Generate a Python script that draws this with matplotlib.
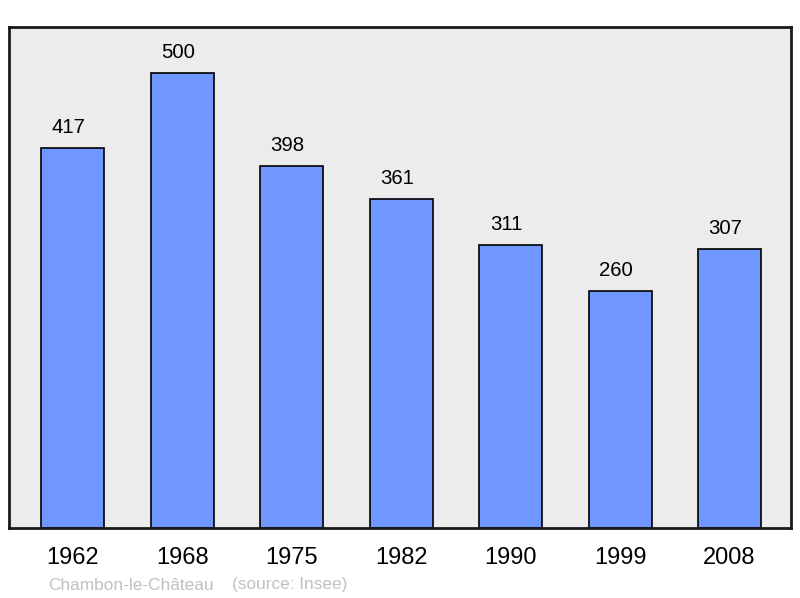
import matplotlib
matplotlib.use('Agg')
import matplotlib.pyplot as plt

plt.rcParams['font.family'] = ['Liberation Sans', 'DejaVu Sans']

# Population data
years = ['1962', '1968', '1975', '1982', '1990', '1999', '2008']
population = [417, 500, 398, 361, 311, 260, 307]
commune = 'Chambon-le-Château'
source = '(source: Insee)'

fig = plt.figure(figsize=(8, 5.98), dpi=100)
ax = fig.add_axes([9/800, 70/598, 782/800, 501/598])
ax.set_facecolor('#ececec')

x = list(range(len(years)))
bars = ax.bar(x, population, width=0.575, color='#7096ff',
              edgecolor='black', linewidth=1.2, zorder=2)

for xi, v in zip(x, population):
    ax.annotate(str(v), xy=(xi, v), xytext=(-3, 14.8), textcoords='offset points',
                ha='center', va='center', fontsize=14.7)

ax.set_xlim(-0.584, 6.562)
ax.set_ylim(0, 550.5)
ax.set_yticks([])
ax.set_xticks(x)
ax.set_xticklabels(years, fontsize=17)
ax.tick_params(axis='x', length=0, pad=13.5)

for sp in ax.spines.values():
    sp.set_linewidth(2)
    sp.set_color('#1a1a1a')

fig.text(48/800, 1 - 585/598, commune, color='#c0c0c0', fontsize=12.4,
         ha='left', va='center')
fig.text(232/800, 1 - 585/598, source, color='#c0c0c0', fontsize=12.4,
         ha='left', va='center')

fig.savefig('out.png', dpi=100)
